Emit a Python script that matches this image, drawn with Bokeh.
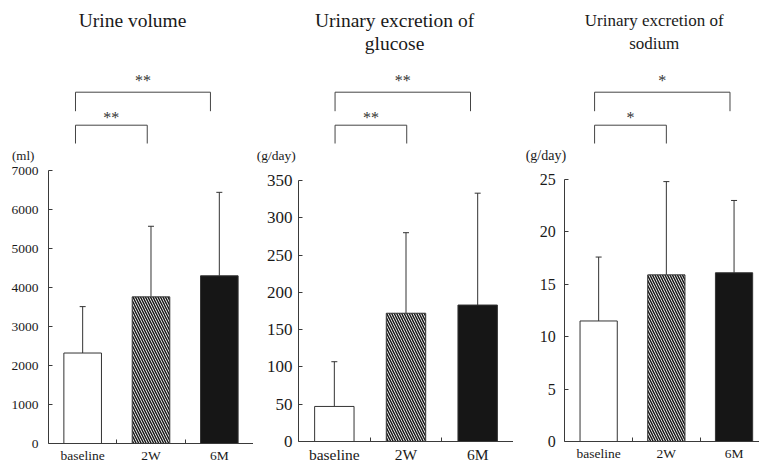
from bokeh.plotting import figure
from bokeh.layouts import row
from bokeh.models import Range1d, FixedTicker, Whisker, TeeHead, ColumnDataSource
from bokeh.core.properties import value
from bokeh.embed import file_html
from bokeh.resources import INLINE

# ---------------- data ----------------
categories = ["baseline", "2W", "6M"]
volume_mean = [2320, 3760, 4300]
volume_sd = [1190, 1810, 2140]
glucose_mean = [47, 172, 183]
glucose_sd = [60, 108, 150]
sodium_mean = [11.5, 15.9, 16.1]
sodium_sd = [6.1, 8.9, 6.9]

volume_ticks = [0, 1000, 2000, 3000, 4000, 5000, 6000, 7000]
glucose_ticks = [0, 50, 100, 150, 200, 250, 300, 350]
sodium_ticks = [0, 5, 10, 15, 20, 25]

titles = [["Urine volume"],
          ["Urinary excretion of", "glucose"],
          ["Urinary excretion of", "sodium"]]
units = ["(ml)", "(g/day)", "(g/day)"]
sig_outer = ["**", "**", "*"]   # baseline vs 6M
sig_inner = ["**", "**", "*"]   # baseline vs 2W

# ---------------- layout / style ----------------
FONT = "Liberation Serif"
TXT = "#1a1a1a"
AXC = "#3a3a3a"
H = 464

panels = [
    dict(mean=volume_mean, sd=volume_sd, ticks=volume_ticks, w=253, left=48.0, zero=443, top=170,
         unit=68.33, std=10, tx=1.23, ux=-0.37, br=(0.395, 1.445, 2.37),
         f_title=19.5, f_y=13.5, f_x=13.5, f_unit=13),
    dict(mean=glucose_mean, sd=glucose_sd, ticks=glucose_ticks, w=260, left=45.0, zero=441, top=180,
         unit=71.67, std=6, tx=1.34, ux=-0.31, br=(0.51, 1.51, 2.40),
         f_title=19.5, f_y=17, f_x=15.5, f_unit=13.5),
    dict(mean=sodium_mean, sd=sodium_sd, ticks=sodium_ticks, w=246, left=51.3, zero=441, top=179,
         unit=67.7, std=9, tx=1.32, ux=-0.28, br=(0.44, 1.50, 2.44),
         f_title=17, f_y=16, f_x=13.5, f_unit=14),
]

fills = ["white", "white", "#161616"]
hatches = [" ", "\\", " "]

figs = []
for i, cfg in enumerate(panels):
    ymax = cfg["ticks"][-1]
    zero, top = cfg["zero"], cfg["top"]
    per_px = ymax / (zero - top)

    def py(px):
        return (zero - px) * per_px

    x_start = -cfg["left"] / cfg["unit"]
    x_end = (cfg["w"] - cfg["left"]) / cfg["unit"]

    p = figure(width=cfg["w"], height=H, output_backend="svg", toolbar_location=None,
               x_range=Range1d(x_start, x_end), y_range=Range1d(py(H), py(0)),
               min_border_left=0, min_border_right=0, min_border_top=0,
               min_border_bottom=0, outline_line_color=None,
               background_fill_color="white", border_fill_color="white")
    p.title.text = ""
    p.grid.visible = False

    xs = [0.5, 1.5, 2.5]
    src = ColumnDataSource(dict(x=xs, top=cfg["mean"],
                                upper=[m + s for m, s in zip(cfg["mean"], cfg["sd"])],
                                fill=fills, hatch=hatches))
    p.vbar(x="x", top="top", bottom=0, width=0.55, source=src, fill_color="fill",
           line_color="#333333", line_width=1, hatch_pattern="hatch", hatch_color="#1a1a1a",
           hatch_scale=5, hatch_weight=1.5)
    p.add_layout(Whisker(source=src, base="x", lower="top", upper="upper", dimension="height",
                         line_color="#333333", line_width=1, lower_head=None,
                         upper_head=TeeHead(size=6, line_color="#333333", line_width=1)))

    # axes
    xa = p.xaxis[0]
    xa.fixed_location = 0
    xa.ticker = FixedTicker(ticks=xs, minor_ticks=[1, 2, 3])
    xa.bounds = (0, 3)
    xa.major_label_overrides = {0.5: categories[0], 1.5: categories[1], 2.5: categories[2]}
    xa.major_tick_in = 0
    xa.major_tick_out = 0
    xa.minor_tick_in = 4
    xa.minor_tick_out = 0
    xa.minor_tick_line_color = AXC
    xa.axis_line_color = AXC
    xa.major_label_text_font = FONT
    xa.major_label_text_font_size = f"{cfg['f_x']}px"
    xa.major_label_text_color = TXT
    xa.major_label_standoff = 4

    ya = p.yaxis[0]
    ya.fixed_location = 0
    ya.ticker = FixedTicker(ticks=cfg["ticks"], minor_ticks=[])
    ya.bounds = (0, ymax)
    ya.major_tick_in = 4
    ya.major_tick_out = 0
    ya.major_tick_line_color = AXC
    ya.axis_line_color = AXC
    ya.major_label_text_font = FONT
    ya.major_label_text_font_size = f"{cfg['f_y']}px"
    ya.major_label_text_color = TXT
    ya.major_label_standoff = cfg["std"]

    # significance brackets
    x0, x1, x2 = cfg["br"]
    p.multi_line(xs=[[x0, x0, x2, x2], [x0, x0, x1, x1]],
                 ys=[[py(110.7), py(91.7), py(91.7), py(110.7)],
                     [py(143), py(124.7), py(124.7), py(143)]],
                 line_color="#444444", line_width=1)
    p.text(x=[(x0 + x2) / 2, (x0 + x1) / 2], y=[py(80), py(116.5)],
           text=[sig_outer[i], sig_inner[i]], text_align="center", text_baseline="middle",
           text_font=value(FONT), text_font_size="16px", text_color="#333333")

    # titles
    tl = titles[i]
    p.text(x=[cfg["tx"]] * len(tl), y=[py(20 + 22.5 * k) for k in range(len(tl))], text=tl,
           text_align="center", text_baseline="middle", text_font=value(FONT),
           text_font_size=f"{cfg['f_title']}px", text_color=TXT)
    # unit label
    p.text(x=[cfg["ux"]], y=[py(155)], text=[units[i]], text_align="center",
           text_baseline="middle", text_font=value(FONT),
           text_font_size=f"{cfg['f_unit']}px", text_color=TXT)
    figs.append(p)

layout = row(*figs, spacing=0)
open("out.html", "w").write(file_html(layout, INLINE))
